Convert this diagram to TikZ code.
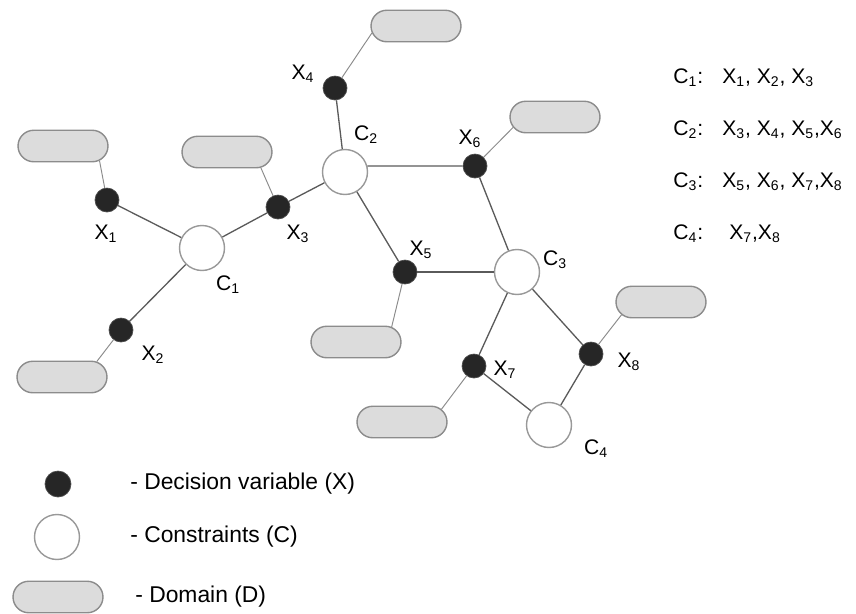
\documentclass[tikz,border=0pt]{standalone}
\usepackage{fontspec}
\setmainfont{Liberation Sans}
\usepackage{tikz}
\usetikzlibrary{shapes.misc,positioning}
\definecolor{domfill}{HTML}{DCDCDC}
\definecolor{domline}{HTML}{8C8C8C}
\definecolor{dotfill}{HTML}{262626}
\definecolor{tieline}{HTML}{5A5A5A}
\tikzset{
    semithick,
    var/.style ={circle, draw=black!70, fill=dotfill, minimum size=0.48cm, inner sep=0pt},
    con/.style ={circle, draw=black!40, fill=white, line width=0.8pt, minimum size=0.9cm, inner sep=0pt},
    dom/.style ={rounded rectangle, draw=domline, fill=domfill, line width=0.8pt, minimum width=1.8cm, minimum height=0.63cm, inner sep=0pt},
    tie/.style ={draw=tieline, line width=0.75pt},
    dlink/.style ={draw=domline, line width=0.55pt},
    lbl/.style = {inner sep=0pt, font=\fontsize{12}{14}\selectfont},
    key/.style = {inner sep=0pt, anchor=west, font=\fontsize{13}{15}\selectfont}
}
\begin{document}
\begin{tikzpicture}[x=0.02cm, y=-0.02cm]
        \useasboundingbox (0,0) rectangle (856,613);

        % constraints
        \node[con] (c1) at (202,248) {};
        \node[con] (c2) at (345,172) {};
        \node[con] (c3) at (517,272) {};
        \node[con] (c4) at (549,425) {};

        % decision variables
        \node[var] (x1) at (107,200) {};
        \node[var] (x2) at (121,330) {};
        \node[var] (x3) at (278,207) {};
        \node[var] (x4) at (335,88) {};
        \node[var] (x5) at (405,272) {};
        \node[var] (x6) at (475,166) {};
        \node[var] (x7) at (474,366) {};
        \node[var] (x8) at (591,354) {};

        % domains
        \node[dom] (d1) at (63,146) {};
        \node[dom] (d2) at (62,377) {};
        \node[dom] (d3) at (227,152) {};
        \node[dom] (d4) at (416,26) {};
        \node[dom] (d5) at (356,342) {};
        \node[dom] (d6) at (555,117) {};
        \node[dom] (d7) at (402,422) {};
        \node[dom] (d8) at (661,302) {};

        % labels
        \node[lbl] at (106,234) {X\textsubscript{1}};
        \node[lbl] at (153,355) {X\textsubscript{2}};
        \node[lbl] at (298,234) {X\textsubscript{3}};
        \node[lbl] at (303,74) {X\textsubscript{4}};
        \node[lbl] at (421,250) {X\textsubscript{5}};
        \node[lbl] at (470,139) {X\textsubscript{6}};
        \node[lbl] at (505,370) {X\textsubscript{7}};
        \node[lbl] at (629,362) {X\textsubscript{8}};
        \node[lbl] at (228,285) {C\textsubscript{1}};
        \node[lbl] at (366,135) {C\textsubscript{2}};
        \node[lbl] at (555,260) {C\textsubscript{3}};
        \node[lbl] at (596,449) {C\textsubscript{4}};

        \path (x1) edge[tie] (c1);
        \path (x2) edge[tie] (c1);
        \path (x3) edge[tie] (c1);
        \path (x3) edge[tie] (c2);
        \path (x4) edge[tie] (c2);
        \path (x6) edge[tie] (c2.15);
        \path (x5) edge[tie] (c2);
        \path (x5) edge[tie] (c3);
        \path (x6) edge[tie] (c3);
        \path (x7) edge[tie] (c3);
        \path (x8) edge[tie] (c3);
        \path (x7) edge[tie] (c4);
        \path (x8) edge[tie] (c4);

        \path (x1) edge[dlink] (d1.-22);
        \path (x2) edge[dlink] (d2.24);
        \path (x3) edge[dlink] (d3.-25);
        \path (x4) edge[dlink] (d4.189);
        \path (x5) edge[dlink] (d5.23);
        \path (x6) edge[dlink] (d6.194);
        \path (x7) edge[dlink] (d7.18);
        \path (x8) edge[dlink] (d8.198);

        % constraint list
        \node[lbl, anchor=west] (n1) at (673,78) {C\textsubscript{1}:};
        \node[lbl, anchor=west] (n2) at (673,130) {C\textsubscript{2}:};
        \node[lbl, anchor=west] (n3) at (673,182) {C\textsubscript{3}:};
        \node[lbl, anchor=west] (n4) at (673,234) {C\textsubscript{4}:};
        \node[lbl, anchor=west] (s1) at (722,78) {X\textsubscript{1}, X\textsubscript{2}, X\textsubscript{3}};
        \node[lbl, anchor=west] (s2) at (722,130) {X\textsubscript{3}, X\textsubscript{4}, X\textsubscript{5},X\textsubscript{6}};
        \node[lbl, anchor=west] (s3) at (722,182) {X\textsubscript{5}, X\textsubscript{6}, X\textsubscript{7},X\textsubscript{8}};
        \node[lbl, anchor=west] (s4) at (729,234) {X\textsubscript{7},X\textsubscript{8}};

        % legend
        \node[var, minimum size=0.52cm] (kx) at (58,484) {};
        \node[con] (kc) at (57,537) {};
        \node[dom] (kd) at (58,597) {};
        \node[key] (tx) at (130,484) {- Decision variable (X)};
        \node[key] (tc) at (130,537) {- Constraints (C)};
        \node[key] (td) at (135,597) {- Domain (D)};
    \end{tikzpicture}
\end{document}
